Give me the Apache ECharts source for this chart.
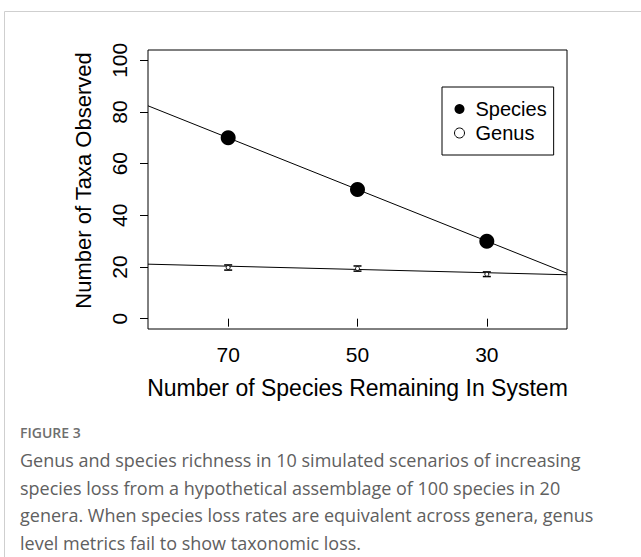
<!DOCTYPE html>
<html>
<head>
<meta charset="utf-8">
<script src="https://cdn.jsdelivr.net/npm/echarts@6/dist/echarts.min.js"></script>
<style>
html,body{margin:0;padding:0;background:#fff;}
#chart{width:641px;height:557px;}
</style>
</head>
<body>
<div id="chart"></div>
<script>
// ---- data ----
const xLimits = [17.6, 82.4];          // species remaining axis (reversed)
const yLimits = [-4, 104];             // taxa observed axis
const xTicks = [70, 50, 30];
const yTicks = [0, 20, 40, 60, 80, 100];
const speciesRemaining = [70, 50, 30];
const speciesObserved = [70, 50, 30];
const genusObserved = [19.8, 19.4, 17.2];
const genusError = [1.0, 1.0, 0.9];
// fitted lines: y values at x = xLimits[1] (left edge) and x = xLimits[0] (right edge)
const speciesFitEnds = [82.4, 17.6];
const genusFitEnds = [21.1, 17.0];
const captionTitle = 'FIGURE 3';
const captionLines = [
  'Genus and species richness in 10 simulated scenarios of increasing',
  'species loss from a hypothetical assemblage of 100 species in 20',
  'genera. When species loss rates are equivalent across genera, genus',
  'level metrics fail to show taxonomic loss.'
];

const font = '"Liberation Sans", Arial, sans-serif';
const chart = echarts.init(document.getElementById('chart'), null, {renderer: 'svg'});

const speciesPts = speciesRemaining.map((x, i) => [x, speciesObserved[i]]);
const genusPts = speciesRemaining.map((x, i) => [x, genusObserved[i], genusError[i]]);
const speciesLine = [[xLimits[1], speciesFitEnds[0]], [xLimits[0], speciesFitEnds[1]]];
const genusLine = [[xLimits[1], genusFitEnds[0]], [xLimits[0], genusFitEnds[1]]];

const graphics = [
  {type: 'rect', shape: {x: 4.5, y: 11.5, width: 700, height: 700},
   style: {fill: 'none', stroke: '#cfcfcf', lineWidth: 1}, silent: true},
  {type: 'text', left: 20, top: 425,
   style: {text: captionTitle, font: '600 14px "Open Sans", sans-serif', fill: '#6e6e6e'}}
];
captionLines.forEach((t, i) => {
  graphics.push({type: 'text', left: 20, top: 451 + i * 27.5,
    style: {text: t, font: '18px "Open Sans", sans-serif', fill: '#606060'}});
});

chart.setOption({
  animation: false,
  backgroundColor: '#fff',
  grid: {left: 148, top: 50, width: 419, height: 279, show: true,
         borderColor: '#000', borderWidth: 1, containLabel: false},
  xAxis: {
    type: 'value', inverse: true, min: xLimits[0], max: xLimits[1],
    name: 'Number of Species Remaining In System', nameLocation: 'middle', nameGap: 47,
    nameTextStyle: {fontFamily: font, fontSize: 23, color: '#000'},
    axisLine: {show: false},
    axisTick: {show: true, length: 8, lineStyle: {color: '#000'}, customValues: xTicks},
    axisLabel: {fontFamily: font, fontSize: 21, color: '#000', margin: 15, customValues: xTicks},
    splitLine: {show: false}
  },
  yAxis: {
    type: 'value', min: yLimits[0], max: yLimits[1],
    name: 'Number of Taxa Observed', nameLocation: 'middle', nameGap: 54,
    nameTextStyle: {fontFamily: font, fontSize: 22, color: '#000', padding: [0, 0, 0, 18]},
    axisLine: {show: false},
    axisTick: {show: true, length: 8, lineStyle: {color: '#000'}, customValues: yTicks},
    axisLabel: {fontFamily: font, fontSize: 21, color: '#000', margin: 18, rotate: 90, customValues: yTicks},
    splitLine: {show: false}
  },
  legend: {
    left: 442, top: 87, orient: 'vertical',
    borderColor: '#000', borderWidth: 1, padding: [12, 7, 12, 12],
    itemWidth: 10, itemHeight: 10, itemGap: 4,
    textStyle: {fontFamily: font, fontSize: 20, color: '#000', padding: [0, 0, 0, 6]},
    data: [
      {name: 'Species', icon: 'circle', itemStyle: {color: '#000', borderWidth: 0}},
      {name: 'Genus', icon: 'circle', itemStyle: {color: '#fff', borderColor: '#000', borderWidth: 1}}
    ]
  },
  graphic: graphics,
  series: [
    {name: 'speciesFit', type: 'line', data: speciesLine, symbol: 'none', silent: true,
     lineStyle: {color: '#000', width: 1}, z: 1},
    {name: 'genusFit', type: 'line', data: genusLine, symbol: 'none', silent: true,
     lineStyle: {color: '#000', width: 1}, z: 1},
    {name: 'Species', type: 'scatter', data: speciesPts, symbol: 'circle', symbolSize: 15,
     itemStyle: {color: '#000', opacity: 1}, z: 3},
    {name: 'Genus', type: 'custom', data: genusPts, z: 3,
     itemStyle: {color: '#fff', borderColor: '#000'},
     renderItem: function (params, api) {
       const x = api.value(0), y = api.value(1), e = api.value(2);
       const top = api.coord([x, y + e]);
       const bot = api.coord([x, y - e]);
       const c = api.coord([x, y]);
       const cap = 4;
       return {type: 'group', children: [
         {type: 'line', shape: {x1: top[0], y1: top[1], x2: bot[0], y2: bot[1]}, style: {stroke: '#000', lineWidth: 1.5}},
         {type: 'line', shape: {x1: top[0] - cap, y1: top[1], x2: top[0] + cap, y2: top[1]}, style: {stroke: '#000', lineWidth: 1.5}},
         {type: 'line', shape: {x1: bot[0] - cap, y1: bot[1], x2: bot[0] + cap, y2: bot[1]}, style: {stroke: '#000', lineWidth: 1.5}},
         {type: 'circle', shape: {cx: c[0], cy: c[1], r: 2}, style: {fill: '#fff', stroke: '#000', lineWidth: 1}}
       ]};
     }}
  ]
});
</script>
</body>
</html>
